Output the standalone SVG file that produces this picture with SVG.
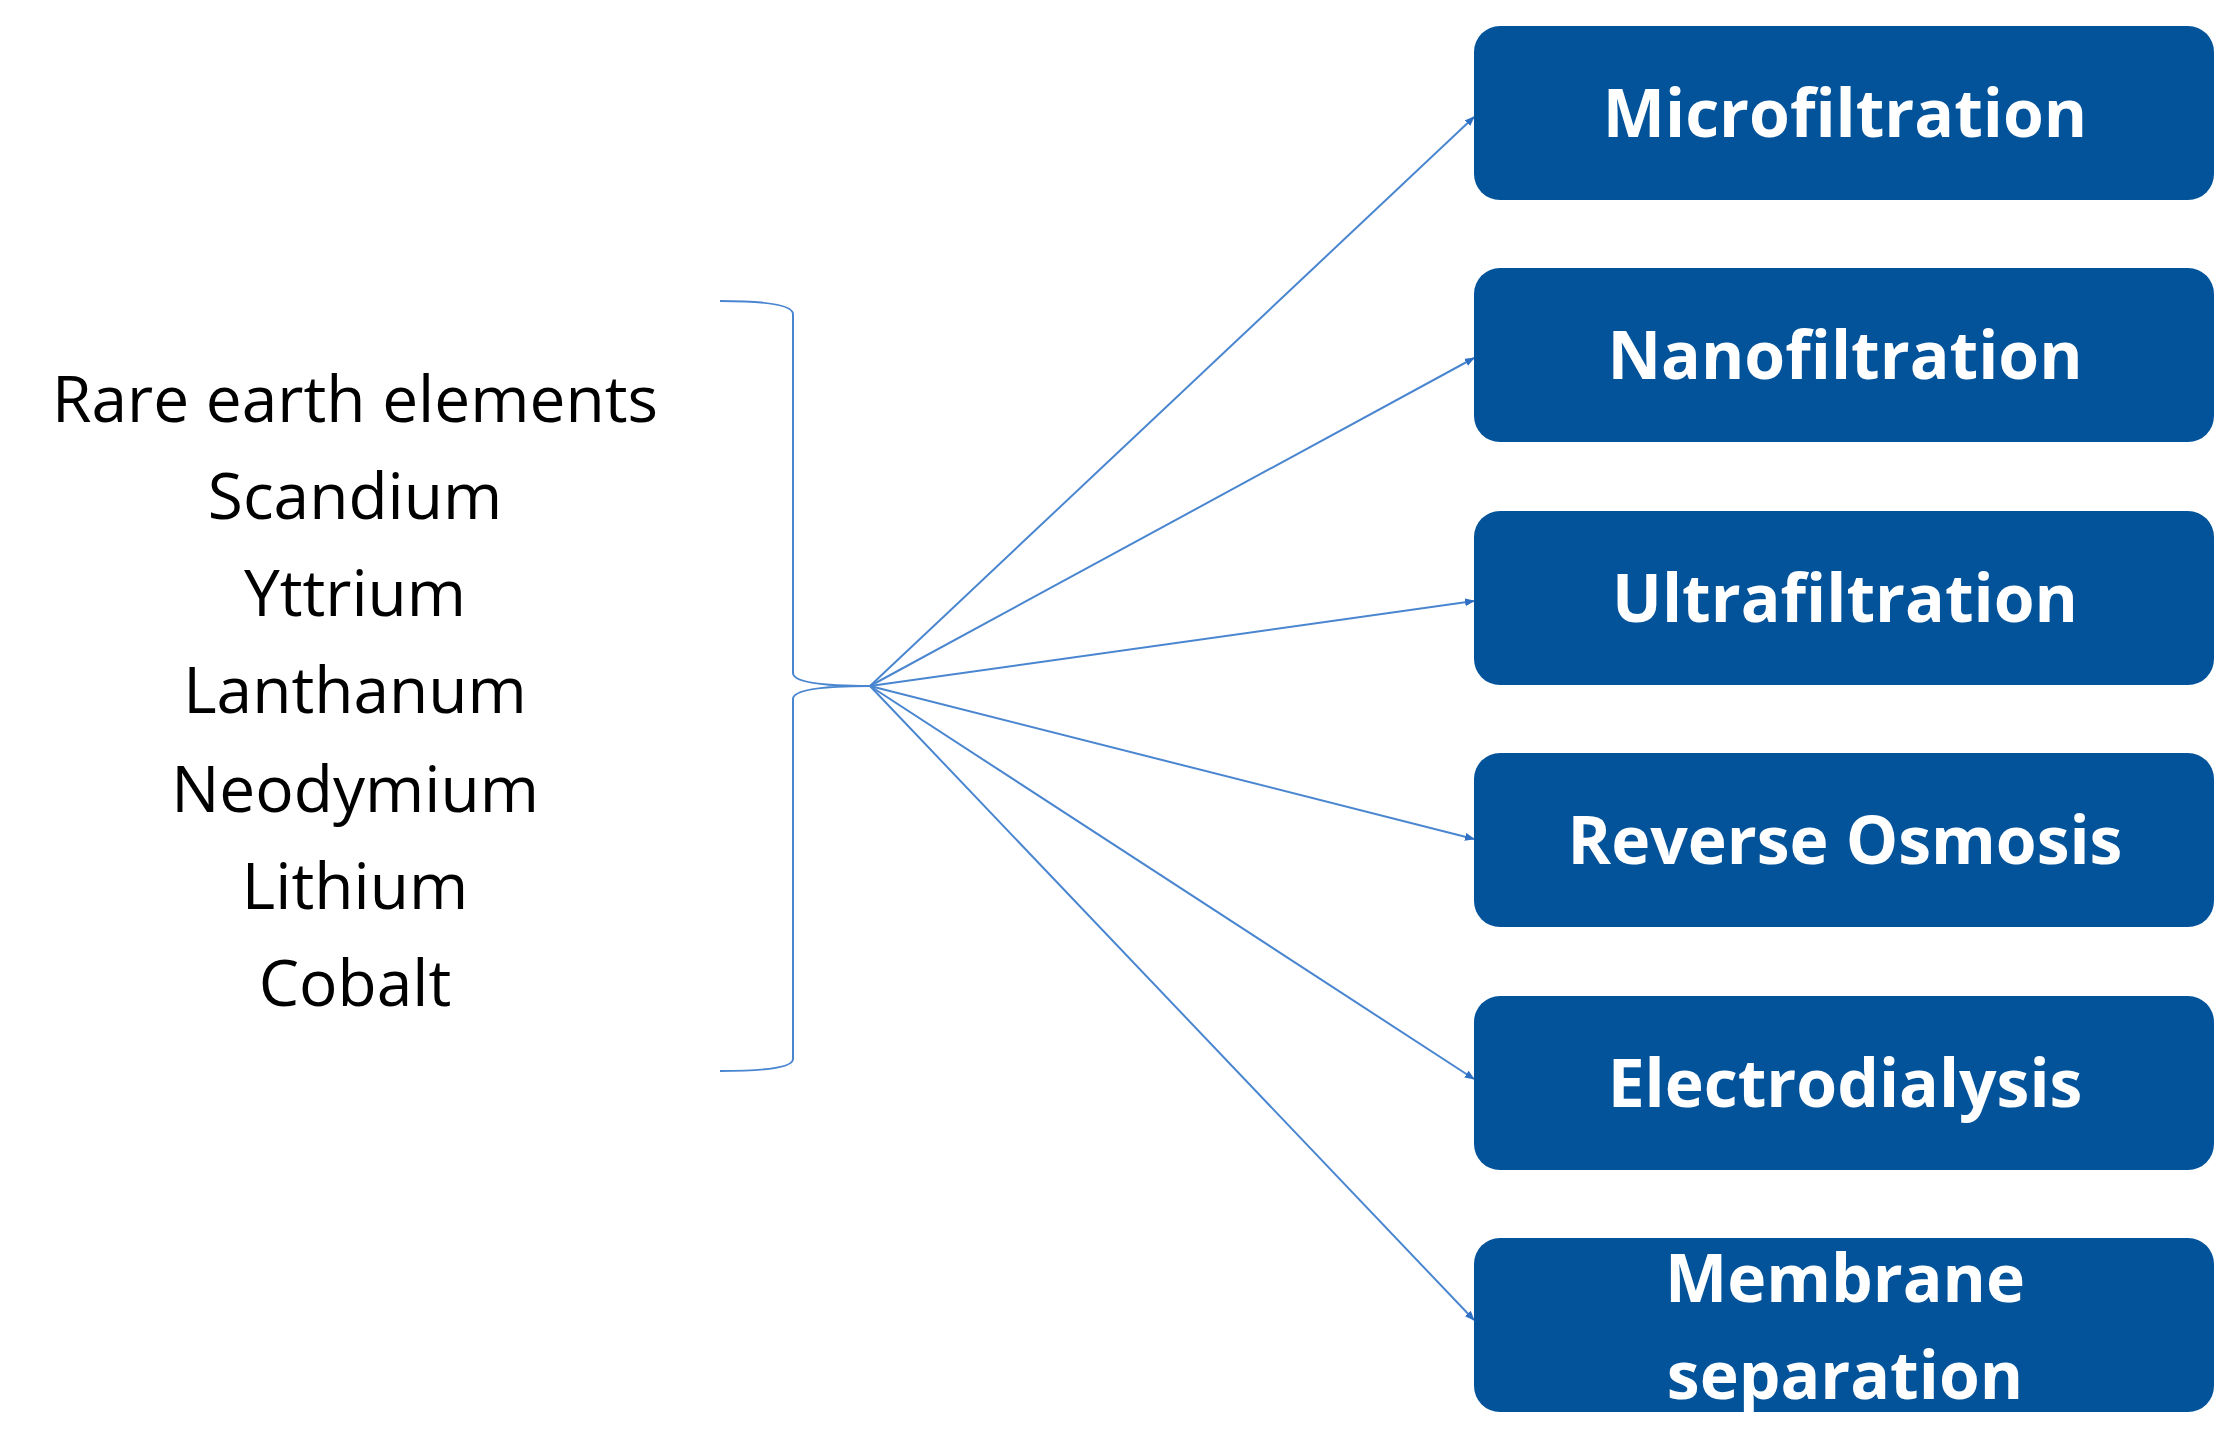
<svg xmlns="http://www.w3.org/2000/svg" width="2237" height="1437" viewBox="0 0 2237 1437">
<style>
.box{fill:#03539b}
.bt{font-family:"Open Sans",sans-serif;font-weight:bold;font-size:66px;fill:#fff;text-anchor:middle}
.lt{font-family:"Open Sans",sans-serif;font-size:64px;fill:#000;text-anchor:middle}
.ln{stroke:#4a86d0;stroke-width:2;fill:none}
</style>
<defs><marker id="ah" markerWidth="10" markerHeight="8" refX="9" refY="4" orient="auto" markerUnits="userSpaceOnUse"><path d="M0,0L10,4L0,8z" fill="#2f6fc4"/></marker></defs>
<rect width="2237" height="1437" fill="#fff"/>
<g id="elements">
<text class="lt" x="355" y="422">Rare earth elements</text>
<text class="lt" x="355" y="519">Scandium</text>
<text class="lt" x="355" y="616">Yttrium</text>
<text class="lt" x="355" y="713">Lanthanum</text>
<text class="lt" x="355" y="812">Neodymium</text>
<text class="lt" x="355" y="909">Lithium</text>
<text class="lt" x="355" y="1006">Cobalt</text>
</g>
<g id="brace"><path class="ln" d="M720,301 Q793,301 793,314 L793,673 Q793,686 870,686 Q793,686 793,699 L793,1059 Q793,1071 720,1071"/></g>
<g id="connectors">
<line class="ln" x1="870" y1="686" x2="1474" y2="117" marker-end="url(#ah)"/>
<line class="ln" x1="870" y1="686" x2="1474" y2="358" marker-end="url(#ah)"/>
<line class="ln" x1="870" y1="686" x2="1474" y2="601" marker-end="url(#ah)"/>
<line class="ln" x1="870" y1="686" x2="1474" y2="839" marker-end="url(#ah)"/>
<line class="ln" x1="870" y1="686" x2="1474" y2="1079" marker-end="url(#ah)"/>
<line class="ln" x1="870" y1="686" x2="1474" y2="1320" marker-end="url(#ah)"/>
</g>
<g id="n1"><rect class="box" x="1474" y="26" width="740" height="174" rx="26"/><text class="bt" x="1845" y="137">Microfiltration</text></g>
<g id="n2"><rect class="box" x="1474" y="268" width="740" height="174" rx="26"/><text class="bt" x="1845" y="379">Nanofiltration</text></g>
<g id="n3"><rect class="box" x="1474" y="511" width="740" height="174" rx="26"/><text class="bt" x="1845" y="622">Ultrafiltration</text></g>
<g id="n4"><rect class="box" x="1474" y="753" width="740" height="174" rx="26"/><text class="bt" x="1845" y="864">Reverse Osmosis</text></g>
<g id="n5"><rect class="box" x="1474" y="996" width="740" height="174" rx="26"/><text class="bt" x="1845" y="1107">Electrodialysis</text></g>
<g id="n6"><rect class="box" x="1474" y="1238" width="740" height="174" rx="26"/><text class="bt" x="1845" y="1302">Membrane</text><text class="bt" x="1845" y="1399">separation</text></g>
</svg>
